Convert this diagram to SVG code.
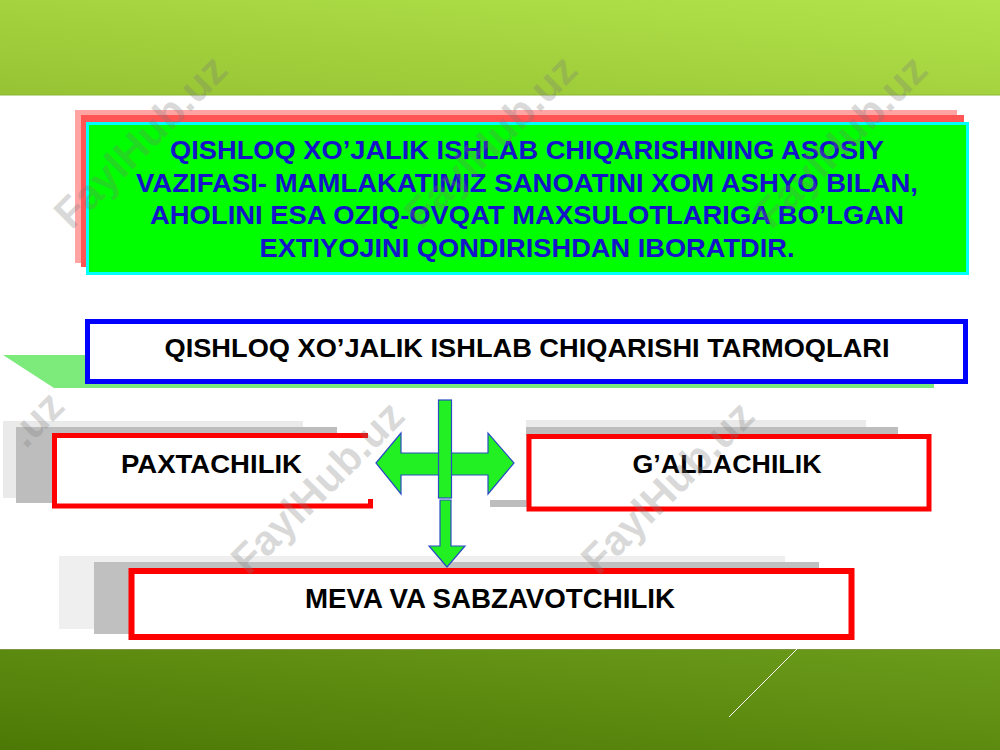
<svg xmlns="http://www.w3.org/2000/svg" width="1000" height="750" viewBox="0 0 1000 750">
  <defs>
    <linearGradient id="topBand" x1="0" y1="1" x2="1" y2="0">
      <stop offset="0" stop-color="#96C333"/>
      <stop offset="1" stop-color="#B2E34B"/>
    </linearGradient>
    <linearGradient id="botBand" x1="0" y1="1" x2="1" y2="0">
      <stop offset="0" stop-color="#4C7905"/>
      <stop offset="1" stop-color="#6C9C1B"/>
    </linearGradient>
    <style>
      .cond { font-family: "Liberation Sans Narrow", "Liberation Sans", Arial, sans-serif; font-weight: bold; }
      .bold { font-family: "Liberation Sans", Arial, sans-serif; font-weight: bold; }
      .blueTxt { fill: #1414C8; font-size: 26px; }
      .blackTxt { fill: #000000; }
      .redBox { fill: #FFFFFF; stroke: #FF0000; stroke-width: 5; }
      .arrow { fill: #22F022; stroke: #2A4CC4; stroke-width: 1.2; stroke-linejoin: miter; }
      .wm { font-family: "Liberation Sans", Arial, sans-serif; font-weight: bold; font-size: 42px; fill: #7A7A7A; fill-opacity: 0.28; }
    </style>
  </defs>

  <!-- background -->
  <rect x="0" y="0" width="1000" height="750" fill="#FFFFFF"/>
  <rect x="0" y="0" width="1000" height="95" fill="url(#topBand)"/>
  <line x1="0" y1="95" x2="1000" y2="95" stroke="#8DB637" stroke-width="1"/>
  <rect x="0" y="649" width="1000" height="101" fill="url(#botBand)"/>
  <line x1="0" y1="649.5" x2="1000" y2="649.5" stroke="#7E9440" stroke-width="1"/>
  <line x1="797" y1="649" x2="729" y2="717" stroke="#FFFFFF" stroke-width="1"/>

  <!-- main statement box -->
  <g id="node-statement">
    <rect x="75" y="110" width="882" height="153" fill="#FFA3A3"/>
    <rect x="81" y="115" width="883" height="152" fill="#FF5555"/>
    <rect x="87.5" y="123.5" width="880" height="150" fill="#00FF00" stroke="#00FFFF" stroke-width="3"/>
    <text class="cond blueTxt" x="527" y="159" text-anchor="middle" textLength="714" lengthAdjust="spacingAndGlyphs">QISHLOQ XO’JALIK ISHLAB CHIQARISHINING ASOSIY</text>
    <text class="cond blueTxt" x="527" y="191.5" text-anchor="middle" textLength="782" lengthAdjust="spacingAndGlyphs">VAZIFASI- MAMLAKATIMIZ SANOATINI XOM ASHYO BILAN,</text>
    <text class="cond blueTxt" x="527" y="224" text-anchor="middle" textLength="754" lengthAdjust="spacingAndGlyphs">AHOLINI ESA OZIQ-OVQAT MAXSULOTLARIGA BO’LGAN</text>
    <text class="cond blueTxt" x="527" y="257" text-anchor="middle" textLength="535" lengthAdjust="spacingAndGlyphs">EXTIYOJINI QONDIRISHDAN IBORATDIR.</text>
  </g>

  <!-- branches header -->
  <g id="node-branches">
    <polygon points="3,355 934,355 934,388 54,388" fill="#7CEB7C"/>
    <rect x="87.5" y="321.5" width="878" height="60" fill="#FFFFFF" stroke="#0000FF" stroke-width="5"/>
    <text class="cond blackTxt" x="527" y="357" font-size="25" text-anchor="middle" textLength="725" lengthAdjust="spacingAndGlyphs">QISHLOQ XO’JALIK ISHLAB CHIQARISHI TARMOQLARI</text>
  </g>

  <!-- PAXTACHILIK -->
  <g id="node-paxtachilik">
    <rect x="3" y="421" width="300" height="77" fill="#EAEAEA"/>
    <rect x="16" y="427" width="321" height="76" fill="#BDBDBD"/>
    <rect x="54.5" y="435.5" width="316" height="70.5" fill="#FFFFFF"/>
    <path d="M368,435.5 H54.5 V506 H370.5 V499" fill="none" stroke="#FF0000" stroke-width="5"/>
    <text class="bold blackTxt" x="211.5" y="473" font-size="26" text-anchor="middle" textLength="181" lengthAdjust="spacingAndGlyphs">PAXTACHILIK</text>
  </g>

  <!-- G'ALLACHILIK -->
  <g id="node-gallachilik">
    <rect x="526" y="420" width="340" height="10" fill="#EAEAEA"/>
    <polygon points="526,427 898,427 898,507 490,507 490,500 526,500" fill="#BDBDBD"/>
    <rect class="redBox" x="529" y="436.5" width="400" height="72.5"/>
    <text class="bold blackTxt" x="727" y="473" font-size="26" text-anchor="middle" textLength="189" lengthAdjust="spacingAndGlyphs">G’ALLACHILIK</text>
  </g>

  <!-- MEVA VA SABZAVOTCHILIK -->
  <g id="node-meva">
    <rect x="59" y="556" width="726" height="73" fill="#EFEFEF"/>
    <rect x="94" y="562" width="725" height="72" fill="#C0C0C0"/>
    <rect x="131.5" y="571" width="720" height="66" fill="#FFFFFF" stroke="#FF0000" stroke-width="6"/>
    <text class="cond blackTxt" x="490" y="608" font-size="27" text-anchor="middle" textLength="370" lengthAdjust="spacingAndGlyphs">MEVA VA SABZAVOTCHILIK</text>
  </g>

  <!-- connectors -->
  <g id="connectors">
    <polygon class="arrow" points="376,463 401,433 401,453 488,453 488,433 514,463 488,494 488,475 401,475 401,494"/>
    <rect class="arrow" x="438.5" y="400" width="13" height="98"/>
    <polygon class="arrow" points="440,500 451,500 451,546 465,546 447,567 429,546 440,546"/>
  </g>

  <!-- watermarks -->
  <g id="watermarks">
    <text class="wm" transform="translate(140,141) rotate(-45)" x="0" y="15" text-anchor="middle">FaylHub.uz</text>
    <text class="wm" transform="translate(490,141) rotate(-45)" x="0" y="15" text-anchor="middle">FaylHub.uz</text>
    <text class="wm" transform="translate(840,141) rotate(-45)" x="0" y="15" text-anchor="middle">FaylHub.uz</text>
    <text class="wm" transform="translate(-33,487) rotate(-45)" x="126" y="15" text-anchor="end">.uz</text>
    <text class="wm" transform="translate(317,487) rotate(-45)" x="0" y="15" text-anchor="middle">FaylHub.uz</text>
    <text class="wm" transform="translate(667,487) rotate(-45)" x="0" y="15" text-anchor="middle">FaylHub.uz</text>
  </g>
</svg>
